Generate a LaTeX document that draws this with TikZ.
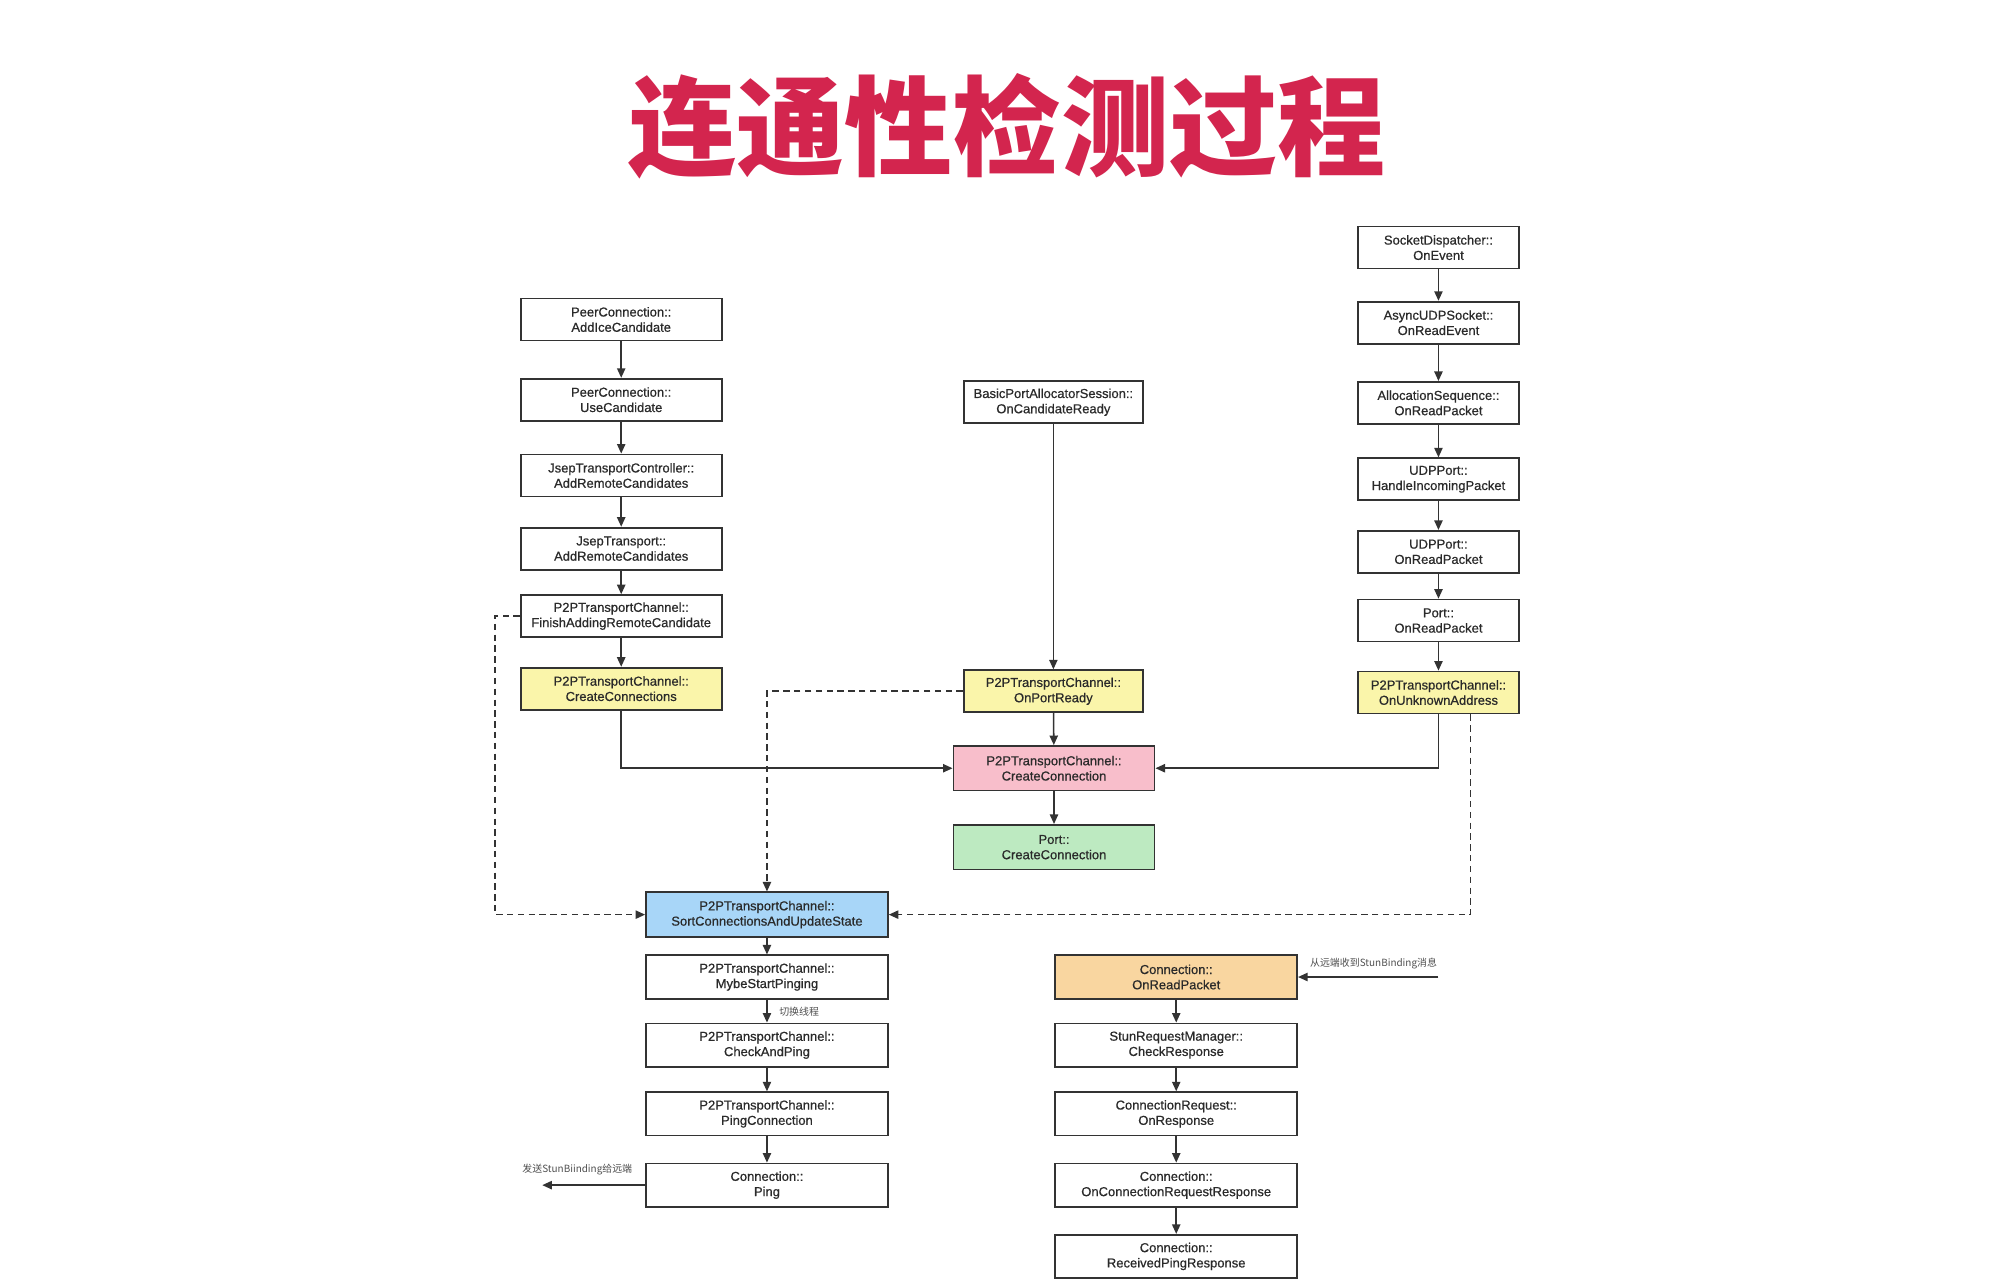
\documentclass[tikz,border=0pt]{standalone}
\usepackage{fontspec}
\setmainfont{Liberation Sans}
\newfontfamily\boxfont{Liberation Sans}[FakeBold=0.6]
\newfontfamily\cjk{Noto Sans CJK SC}
\usetikzlibrary{arrows.meta}
\definecolor{titlered}{HTML}{D3254E}
\definecolor{boxline}{HTML}{333333}
\definecolor{boxtext}{HTML}{2A2A2A}
\definecolor{fyellow}{HTML}{FAF5AA}
\definecolor{fpink}{HTML}{F8BECB}
\definecolor{fgreen}{HTML}{BDEAC1}
\definecolor{fblue}{HTML}{A8D6F8}
\definecolor{forange}{HTML}{F9D6A0}
\definecolor{lbl}{HTML}{505050}
\tikzset{
  fn/.style={draw=boxline, line width=1.4pt, fill=white, inner sep=0pt,
    align=center, text=boxtext, font=\boxfont\fontsize{10.2}{12}\selectfont},
  wl/.style={fn, minimum width=158pt, minimum height=33pt},
  wm/.style={fn, minimum width=141pt, minimum height=33pt},
  wr/.style={fn, minimum width=126pt, minimum height=33pt},
  wb/.style={fn, minimum width=190pt, minimum height=34pt},
  link/.style={draw=boxline, line width=1.2pt, -{Triangle[length=7.5pt,width=6.5pt]}},
  dlink/.style={link, dash pattern=on 5pt off 3.5pt},
  note/.style={text=lbl, font=\cjk\fontsize{7.8}{9}\selectfont, inner sep=0pt}
}
\begin{document}
\begin{tikzpicture}[x=1pt,y=-1pt]
\useasboundingbox[fill=white] (0,0) rectangle (1568,1010);
\node[text=titlered, font=\cjk\bfseries\fontsize{85}{90}\selectfont, inner sep=0pt] (title) at (791,99) {连通性检测过程};

% left column
\node[wl] (a1) at (488,251) {PeerConnection::\\AddIceCandidate};
\node[wl] (a2) at (488,314) {PeerConnection::\\UseCandidate};
\node[wl] (a3) at (488,373.5) {JsepTransportController::\\AddRemoteCandidates};
\node[wl] (a4) at (488,431) {JsepTransport::\\AddRemoteCandidates};
\node[wl] (a5) at (488,484) {P2PTransportChannel::\\FinishAddingRemoteCandidate};
\node[wl, fill=fyellow] (a6) at (488,541) {P2PTransportChannel::\\CreateConnections};

% middle
\node[wm] (m1) at (827.5,316) {BasicPortAllocatorSession::\\OnCandidateReady};
\node[wm, fill=fyellow] (m2) at (827.5,543) {P2PTransportChannel::\\OnPortReady};
\node[wl, fill=fpink, minimum height=35pt] (m3) at (828,603.5) {P2PTransportChannel::\\CreateConnection};
\node[wl, fill=fgreen, minimum height=35pt] (m4) at (828,665.5) {Port::\\CreateConnection};

% right column
\node[wr] (r1) at (1130,194.5) {SocketDispatcher::\\OnEvent};
\node[wr] (r2) at (1130,253.5) {AsyncUDPSocket::\\OnReadEvent};
\node[wr] (r3) at (1130,316.5) {AllocationSequence::\\OnReadPacket};
\node[wr] (r4) at (1130,376.5) {UDPPort::\\HandleIncomingPacket};
\node[wr] (r5) at (1130,433.5) {UDPPort::\\OnReadPacket};
\node[wr] (r6) at (1130,487.5) {Port::\\OnReadPacket};
\node[wr, fill=fyellow] (r7) at (1130,544) {P2PTransportChannel::\\OnUnknownAddress};

% bottom left
\node[wb, fill=fblue, minimum height=35pt] (b0) at (602.5,718.5) {P2PTransportChannel::\\SortConnectionsAndUpdateState};
\node[wb] (b1) at (602.5,767.5) {P2PTransportChannel::\\MybeStartPinging};
\node[wb] (b2) at (602.5,821) {P2PTransportChannel::\\CheckAndPing};
\node[wb] (b3) at (602.5,875) {P2PTransportChannel::\\PingConnection};
\node[wb] (b4) at (602.5,931) {Connection::\\Ping};

% bottom right
\node[wb, fill=forange] (c1) at (924,767.5) {Connection::\\OnReadPacket};
\node[wb] (c2) at (924,821) {StunRequestManager::\\CheckResponse};
\node[wb] (c3) at (924,875) {ConnectionRequest::\\OnResponse};
\node[wb] (c4) at (924,931) {Connection::\\OnConnectionRequestResponse};
\node[wb] (c5) at (924,987) {Connection::\\ReceivedPingResponse};

% solid chains
\foreach \p/\q in {a1/a2,a2/a3,a3/a4,a4/a5,a5/a6,m1/m2,m2/m3,m3/m4,
  r1/r2,r2/r3,r3/r4,r4/r5,r5/r6,r6/r7,b0/b1,b1/b2,b2/b3,b3/b4,
  c1/c2,c2/c3,c3/c4,c4/c5}
  \draw[link] (\p) -- (\q);
\draw[link] (a6.south) |- (m3.west);
\draw[link] (r7.south) |- (m3.east);

% dashed
\draw[dlink] (m2.west) -| (b0.north);
\draw[dlink] (a5.west) -- ++(-19.5,0) |- (b0.west);
\draw[dlink] ([xshift=25pt]r7.south) |- (b0.east);

% labels
\node[note, anchor=west] (lsw) at (612,794.5) {切换线程};
\coordinate (pingend) at (426,931);
\draw[link] (b4.west) -- (pingend);
\node[note] (lsend) at (453.5,919) {发送StunBiinding给远端};
\coordinate (recvstart) at (1130,767.5);
\draw[link] (recvstart) -- (c1.east);
\node[note] (lrecv) at (1079,757) {从远端收到StunBinding消息};
\end{tikzpicture}
\end{document}
